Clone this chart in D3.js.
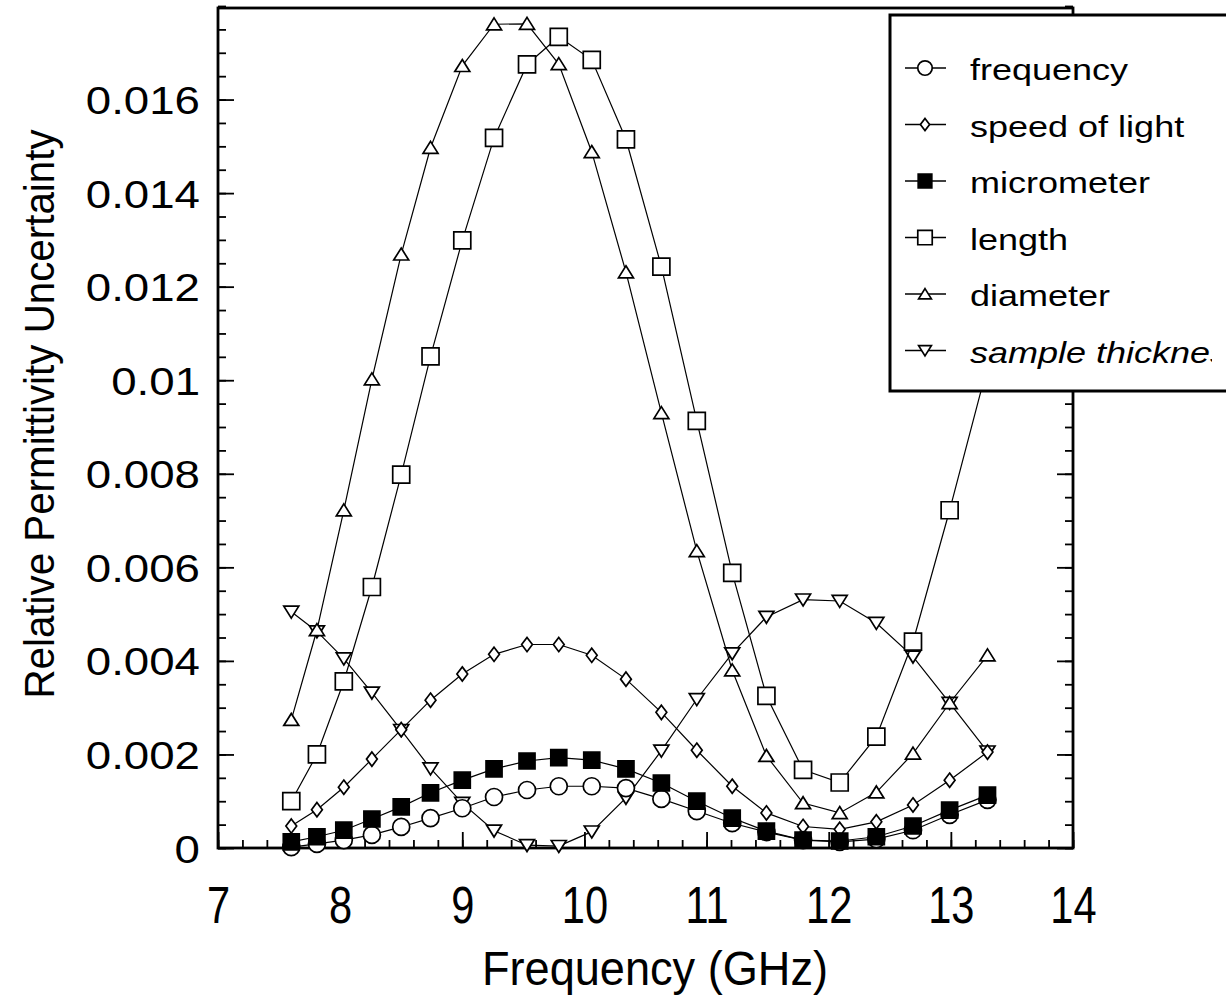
<!doctype html>
<html lang="en">
<head>
<meta charset="UTF-8">
<title>Relative Permittivity Uncertainty</title>
<style>
  body { margin: 0; background: #fff; }
  svg { display: block; font-family: "Liberation Sans", Arial, sans-serif; }
  .frame { fill: none; stroke: #000; stroke-width: 2.8; }
  .axis path { display: none; }
  .axis line { stroke: #000; stroke-width: 1.8; }
  .series-line { fill: none; stroke: #000; stroke-width: 1.2; }
  .mark { stroke: #000; stroke-width: 1.7; }
</style>
</head>
<body>
<svg width="1226" height="995"></svg>
<script src="https://cdn.jsdelivr.net/npm/d3@7"></script>
<script>
// frequencies of the measured points (GHz)
var freqGHz = [7.60, 7.81, 8.03, 8.26, 8.50, 8.74, 9.00, 9.26, 9.53, 9.79, 10.06,
               10.34, 10.63, 10.92, 11.21, 11.49, 11.79, 12.09, 12.39, 12.69, 12.99, 13.30];

// uncertainty contributions, one array per source
var frequencyUnc = [0.00002, 0.00009, 0.00017, 0.00028, 0.00045, 0.00064, 0.00085, 0.00109, 0.00124, 0.00132, 0.00132,
                    0.00128, 0.00105, 0.00079, 0.00053, 0.00034, 0.00017, 0.00013, 0.00019, 0.00038, 0.00071, 0.00103];
var speedOfLightUnc = [0.00047, 0.00082, 0.00130, 0.00190, 0.00253, 0.00316, 0.00372, 0.00414, 0.00435, 0.00435, 0.00412,
                       0.00361, 0.00290, 0.00209, 0.00132, 0.00075, 0.00046, 0.00040, 0.00056, 0.00092, 0.00145, 0.00205];
var micrometerUnc = [0.00013, 0.00024, 0.00038, 0.00062, 0.00088, 0.00118, 0.00145, 0.00169, 0.00186, 0.00193, 0.00188,
                     0.00169, 0.00139, 0.00100, 0.00064, 0.00036, 0.00017, 0.00015, 0.00024, 0.00047, 0.00081, 0.00113];
var lengthUnc = [0.00100, 0.00200, 0.00356, 0.00558, 0.00798, 0.01051, 0.01299, 0.01518, 0.01675, 0.01734, 0.01685,
                 0.01515, 0.01243, 0.00913, 0.00588, 0.00325, 0.00167, 0.00140, 0.00238, 0.00441, 0.00722, 0.01030];
var diameterUnc = [0.00274, 0.00466, 0.00722, 0.01002, 0.01269, 0.01497, 0.01672, 0.01761, 0.01762, 0.01676, 0.01488,
                   0.01231, 0.00930, 0.00635, 0.00380, 0.00197, 0.00096, 0.00075, 0.00119, 0.00202, 0.00310, 0.00412];
var thicknessUnc = [0.00505, 0.00463, 0.00405, 0.00332, 0.00252, 0.00170, 0.00096, 0.00037, 0.00006, 0.00004, 0.00035,
                    0.00107, 0.00208, 0.00318, 0.00416, 0.00494, 0.00531, 0.00528, 0.00481, 0.00409, 0.00310, 0.00206];

var legendNames = ['frequency', 'speed of light', 'micrometer', 'length', 'diameter', 'sample thickness'];
var xTicks = [7, 8, 9, 10, 11, 12, 13, 14];
var yTicks = [0, 0.002, 0.004, 0.006, 0.008, 0.01, 0.012, 0.014, 0.016];

var svg = d3.select('svg'),
    plotLeft = 218, plotRight = 1073, plotTop = 6, plotBottom = 848;

var x = d3.scaleLinear().domain([7, 14]).range([plotLeft, plotRight]);
var y = d3.scaleLinear().domain([0, 0.018]).range([plotBottom, plotTop]);

// marker shapes
function shape(kind, s) {
    var h = s / 2;
    if (kind == 'circle') return 'M' + h + ',0A' + h + ',' + h + ' 0 1,1 ' + (-h) + ',0A' + h + ',' + h + ' 0 1,1 ' + h + ',0Z';
    if (kind == 'square') return 'M' + (-h) + ',' + (-h) + 'H' + h + 'V' + h + 'H' + (-h) + 'Z';
    if (kind == 'diamond') return 'M0,' + (-h * 0.95) + 'L' + (h * 0.72) + ',0L0,' + (h * 0.95) + 'L' + (-h * 0.72) + ',0Z';
    if (kind == 'up') return 'M0,' + (-h * 0.85) + 'L' + h + ',' + (h * 0.75) + 'L' + (-h) + ',' + (h * 0.75) + 'Z';
    if (kind == 'down') return 'M0,' + (h * 0.85) + 'L' + h + ',' + (-h * 0.75) + 'L' + (-h) + ',' + (-h * 0.75) + 'Z';
}

var series = [
    { name: legendNames[0], values: frequencyUnc, kind: 'circle', size: 17, fill: '#fff' },
    { name: legendNames[1], values: speedOfLightUnc, kind: 'diamond', size: 15, fill: '#fff' },
    { name: legendNames[2], values: micrometerUnc, kind: 'square', size: 16, fill: '#000' },
    { name: legendNames[3], values: lengthUnc, kind: 'square', size: 17, fill: '#fff' },
    { name: legendNames[4], values: diameterUnc, kind: 'up', size: 15, fill: '#fff' },
    { name: legendNames[5], values: thicknessUnc, kind: 'down', size: 15, fill: '#fff' }
];
var drawOrder = [5, 4, 3, 1, 0, 2];

// stretch text horizontally by a factor
function stretch(sel, f) {
    sel.each(function() {
        var w = this.getComputedTextLength();
        d3.select(this).attr('textLength', w * f).attr('lengthAdjust', 'spacingAndGlyphs');
    });
}

// axes with inward ticks
svg.append('g').attr('class', 'axis')
    .attr('transform', 'translate(' + plotLeft + ',0)')
    .call(d3.axisLeft(y).tickValues(d3.range(0, 0.01801, 0.0005)).tickSize(-8).tickFormat(''));
var yAxis = svg.append('g').attr('class', 'axis')
    .attr('transform', 'translate(' + plotLeft + ',0)')
    .call(d3.axisLeft(y).tickValues(yTicks).tickSize(-16).tickPadding(18).tickFormat(function(d) { return d3.format('~g')(d); }));
yAxis.selectAll('text')
    .attr('font-size', 39).attr('font-family', '"Liberation Sans", Arial, sans-serif')
    .attr('fill', '#000').attr('dy', '0.36em');
stretch(yAxis.selectAll('text'), 1.17);

svg.append('g').attr('class', 'axis')
    .attr('transform', 'translate(' + plotRight + ',0)')
    .call(d3.axisRight(y).tickValues(d3.range(0, 0.01801, 0.0005)).tickSize(-8).tickFormat(''));
svg.append('g').attr('class', 'axis')
    .attr('transform', 'translate(' + plotRight + ',0)')
    .call(d3.axisRight(y).tickValues(yTicks).tickSize(-16).tickFormat(''));

svg.append('g').attr('class', 'axis')
    .attr('transform', 'translate(0,' + plotBottom + ')')
    .call(d3.axisBottom(x).tickValues(d3.range(7, 14.01, 0.2)).tickSize(-8).tickFormat(''));
var xAxis = svg.append('g').attr('class', 'axis')
    .attr('transform', 'translate(0,' + plotBottom + ')')
    .call(d3.axisBottom(x).tickValues(xTicks).tickSize(-16).tickFormat(d3.format('d')));
xAxis.selectAll('text')
    .attr('font-size', 52).attr('font-family', '"Liberation Sans", Arial, sans-serif')
    .attr('fill', '#000').attr('y', 75).attr('dy', 0);
stretch(xAxis.selectAll('text'), 0.8);

svg.append('rect').attr('class', 'frame')
    .attr('x', plotLeft).attr('y', plotTop + 2).attr('width', plotRight - plotLeft).attr('height', plotBottom - plotTop - 2);

// axis titles
var xt = svg.append('text')
    .attr('x', 655).attr('y', 985)
    .attr('text-anchor', 'middle').attr('font-size', 48)
    .text('Frequency (GHz)');
stretch(xt, 0.94);

var yt = svg.append('text')
    .attr('transform', 'translate(54,414) rotate(-90)')
    .attr('text-anchor', 'middle').attr('font-size', 42)
    .text('Relative Permittivity Uncertainty');
stretch(yt, 0.96);

// series
var line = d3.line()
    .x(function(d, i) { return x(freqGHz[i]); })
    .y(function(d) { return y(d); });

drawOrder.forEach(function(k) {
    var s = series[k];
    var g = svg.append('g');
    g.append('path').attr('class', 'series-line').attr('d', line(s.values))
        .attr('stroke-width', s.fill == '#000' ? 1.8 : null);
    g.selectAll('path.mark')
        .data(s.values)
        .enter().append('path')
        .attr('class', 'mark')
        .attr('transform', function(d, i) { return 'translate(' + x(freqGHz[i]) + ',' + y(d) + ')'; })
        .attr('d', shape(s.kind, s.size))
        .attr('fill', s.fill);
});

// legend
svg.append('clipPath').attr('id', 'legclip')
    .append('rect').attr('x', 0).attr('y', 0).attr('width', 1212).attr('height', 995);
var leg = svg.append('g');
leg.append('rect')
    .attr('x', 890).attr('y', 15).attr('width', 400).attr('height', 376)
    .attr('fill', '#fff').attr('stroke', '#000').attr('stroke-width', 3);
var rows = leg.append('g').attr('clip-path', 'url(#legclip)')
    .selectAll('g')
    .data(series)
    .enter().append('g')
    .attr('transform', function(d, i) { return 'translate(0,' + (68 + 56.5 * i) + ')'; });
rows.append('line')
    .attr('x1', 905).attr('x2', 946).attr('y1', 0).attr('y2', 0)
    .attr('stroke', '#000').attr('stroke-width', 1.3);
rows.append('path')
    .attr('class', 'mark')
    .attr('transform', 'translate(925,0)')
    .attr('d', function(d) { return shape(d.kind, d.size * 0.85); })
    .attr('fill', function(d) { return d.fill; });
var legText = rows.append('text')
    .attr('x', 970).attr('y', 12)
    .attr('font-size', 30)
    .attr('font-style', function(d, i) { return i == 5 ? 'italic' : null; })
    .text(function(d) { return d.name; });
stretch(legText, 1.2);
</script>
</body>
</html>
